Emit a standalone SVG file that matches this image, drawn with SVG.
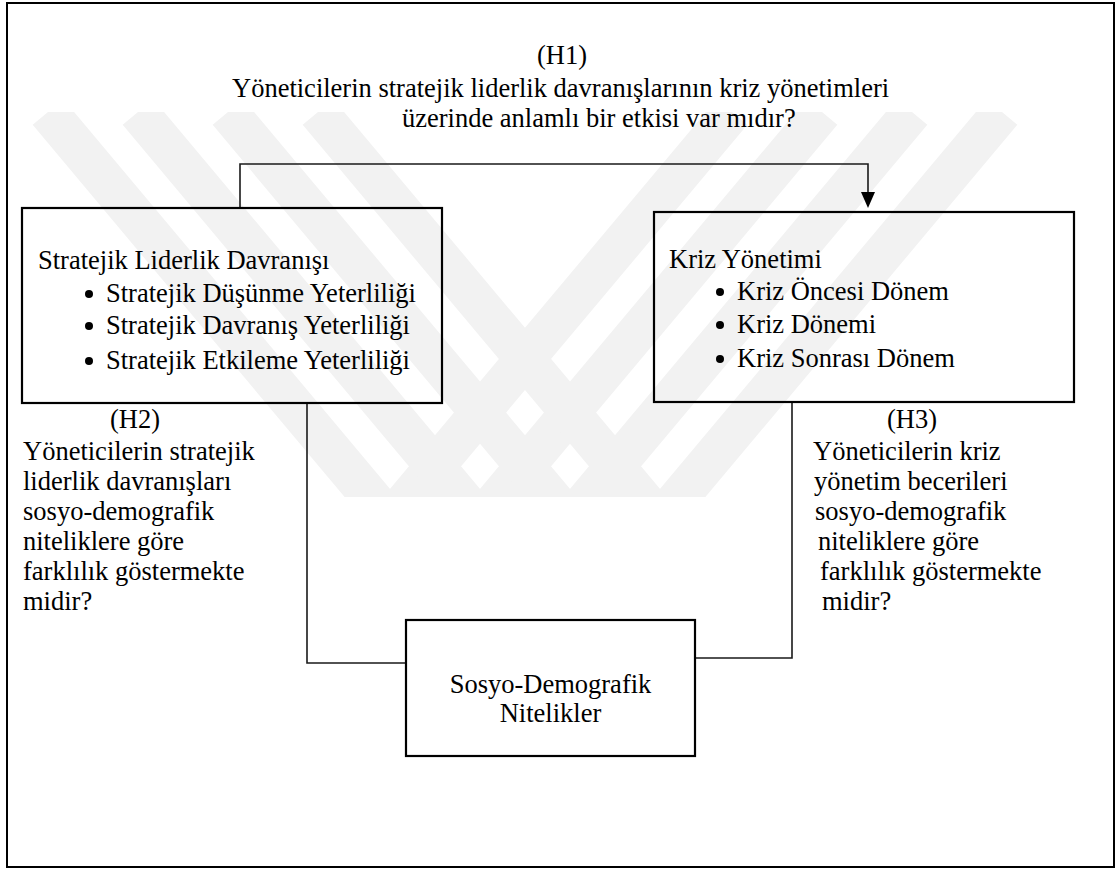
<svg xmlns="http://www.w3.org/2000/svg" width="1120" height="869" viewBox="0 0 1120 869">
<style>
text{font-family:"Liberation Serif","Times New Roman",serif;font-size:26.5px;fill:#000}
.box{fill:none;stroke:#000;stroke-width:2.2}
.frame{fill:#fff;stroke:#000;stroke-width:2}
.wire{fill:none;stroke:#1a1a1a;stroke-width:1.6}
.wm{fill:none;stroke:#f2f2f2;stroke-width:40;stroke-linejoin:miter}
.dot{fill:#000}
.mid{text-anchor:middle}
</style>
<defs>
<clipPath id="wmclip"><rect x="8" y="112" width="1104" height="385"/></clipPath>
</defs>
<rect class="frame" x="7" y="3" width="1107" height="864"/>
<g id="watermark" clip-path="url(#wmclip)">
<polyline class="wm" points="48,112 390,520 732,112"/>
<polyline class="wm" points="138,112 480,520 822,112"/>
<polyline class="wm" points="228,112 570,520 912,112"/>
<polyline class="wm" points="318,112 660,520 1002,112"/>
</g>
<g id="h1-label">
<text x="537" y="64">(H1)</text>
<text x="232" y="97">Yöneticilerin stratejik liderlik davranışlarının kriz yönetimleri</text>
<text x="402" y="127">üzerinde anlamlı bir etkisi var mıdır?</text>
</g>
<g id="connectors">
<path class="wire" d="M240,208 V164 H868 V194"/>
<polygon points="868,208 861,192 875,192" fill="#000"/>
<path class="wire" d="M307,403 V663 H406"/>
<path class="wire" d="M792,402 V658 H695"/>
</g>
<g id="node-liderlik">
<rect class="box" x="22" y="208" width="420" height="195"/>
<text x="38" y="269">Stratejik Liderlik Davranışı</text>
<circle class="dot" cx="89" cy="294" r="4"/><text x="106" y="302">Stratejik Düşünme Yeterliliği</text>
<circle class="dot" cx="89" cy="326" r="4"/><text x="106" y="334">Stratejik Davranış Yeterliliği</text>
<circle class="dot" cx="89" cy="361" r="4"/><text x="106" y="369">Stratejik Etkileme Yeterliliği</text>
</g>
<g id="node-kriz">
<rect class="box" x="654" y="212" width="420" height="190"/>
<text x="669" y="268">Kriz Yönetimi</text>
<circle class="dot" cx="720" cy="292" r="4"/><text x="737" y="300">Kriz Öncesi Dönem</text>
<circle class="dot" cx="720" cy="325" r="4"/><text x="737" y="333">Kriz Dönemi</text>
<circle class="dot" cx="720" cy="359" r="4"/><text x="737" y="367">Kriz Sonrası Dönem</text>
</g>
<g id="node-sosyo">
<rect class="box" x="406" y="620" width="289" height="136"/>
<text class="mid" x="550.5" y="693">Sosyo-Demografik</text>
<text class="mid" x="550.5" y="722">Nitelikler</text>
</g>
<g id="h2-label">
<text x="110" y="428">(H2)</text>
<text x="23" y="460">Yöneticilerin stratejik</text>
<text x="23" y="490">liderlik davranışları</text>
<text x="23" y="520">sosyo-demografik</text>
<text x="23" y="550">niteliklere göre</text>
<text x="23" y="580">farklılık göstermekte</text>
<text x="23" y="610">midir?</text>
</g>
<g id="h3-label">
<text x="887" y="428">(H3)</text>
<text x="813" y="460">Yöneticilerin kriz</text>
<text x="814" y="490">yönetim becerileri</text>
<text x="815" y="520">sosyo-demografik</text>
<text x="818" y="550">niteliklere göre</text>
<text x="820" y="580">farklılık göstermekte</text>
<text x="822" y="610">midir?</text>
</g>
</svg>
